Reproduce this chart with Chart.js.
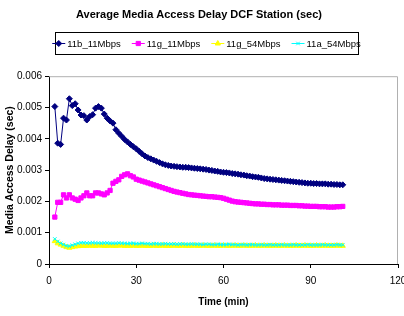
<!DOCTYPE html>
<html>
<head>
<meta charset="utf-8">
<script src="https://cdn.jsdelivr.net/npm/chart.js@4.4.0/dist/chart.umd.min.js"></script>
<style>
  html, body { margin: 0; padding: 0; background: #fff; }
  #wrap { position: relative; width: 404px; height: 316px; }
</style>
</head>
<body>
<div id="wrap"><canvas id="delayChart" width="404" height="316"></canvas></div>
<script>
// ===== Chart data =====
const seriesNames = ['11b_11Mbps', '11g_11Mbps', '11g_54Mbps', '11a_54Mbps'];
const xTicks = [0, 30, 60, 90, 120];
const yTicks = [0, 0.001, 0.002, 0.003, 0.004, 0.005, 0.006];

const timeMin = [
  2, 3, 4, 5, 6, 7, 8, 9, 10, 11, 12, 13, 14, 15, 16, 17, 18, 19, 20, 21,
  22, 23, 24, 25, 26, 27, 28, 29, 30, 31, 32, 33, 34, 35, 36, 37, 38, 39, 40, 41,
  42, 43, 44, 45, 46, 47, 48, 49, 50, 51, 52, 53, 54, 55, 56, 57, 58, 59, 60, 61,
  62, 63, 64, 65, 66, 67, 68, 69, 70, 71, 72, 73, 74, 75, 76, 77, 78, 79, 80, 81,
  82, 83, 84, 85, 86, 87, 88, 89, 90, 91, 92, 93, 94, 95, 96, 97, 98, 99, 100, 101
];

const b11Delay = [
  0.00503, 0.00386, 0.00382, 0.00466, 0.00460, 0.00528, 0.00506, 0.00512, 0.00492, 0.00476,
  0.00474, 0.00460, 0.00471, 0.00477, 0.00498, 0.00503, 0.00498, 0.00479, 0.00466, 0.00457,
  0.00450, 0.00429, 0.00418, 0.00408, 0.00398, 0.00390, 0.00382, 0.00375, 0.00368, 0.00360,
  0.00352, 0.00345, 0.00340, 0.00336, 0.00332, 0.00328, 0.00324, 0.00320, 0.00317, 0.00315,
  0.00313, 0.00312, 0.00311, 0.00310, 0.00309, 0.00309, 0.00308, 0.00307, 0.00306, 0.00305,
  0.00304, 0.00303, 0.00302, 0.00300, 0.00299, 0.00297, 0.00296, 0.00294, 0.00293, 0.00292,
  0.00291, 0.00289, 0.00288, 0.00287, 0.00285, 0.00284, 0.00282, 0.00281, 0.00279, 0.00278,
  0.00277, 0.00275, 0.00273, 0.00272, 0.00271, 0.00270, 0.00269, 0.00268, 0.00267, 0.00266,
  0.00265, 0.00264, 0.00263, 0.00262, 0.00261, 0.00260, 0.00259, 0.00258, 0.00258, 0.00257,
  0.00257, 0.00256, 0.00256, 0.00256, 0.00255, 0.00255, 0.00254, 0.00254, 0.00253, 0.00253
];

const g11Delay = [
  0.00150, 0.00197, 0.00197, 0.00221, 0.00211, 0.00221, 0.00211, 0.00207, 0.00203, 0.00211,
  0.00218, 0.00227, 0.00218, 0.00218, 0.00227, 0.00227, 0.00224, 0.00221, 0.00227, 0.00235,
  0.00258, 0.00264, 0.00269, 0.00280, 0.00285, 0.00288, 0.00282, 0.00278, 0.00271, 0.00268,
  0.00265, 0.00262, 0.00259, 0.00256, 0.00253, 0.00250, 0.00247, 0.00244, 0.00241, 0.00238,
  0.00235, 0.00232, 0.00230, 0.00228, 0.00226, 0.00224, 0.00222, 0.00221, 0.00220, 0.00219,
  0.00218, 0.00217, 0.00216, 0.00215, 0.00215, 0.00214, 0.00213, 0.00212, 0.00210, 0.00207,
  0.00204, 0.00201, 0.00199, 0.00198, 0.00197, 0.00196, 0.00195, 0.00194, 0.00193, 0.00192,
  0.00192, 0.00191, 0.00191, 0.00190, 0.00190, 0.00189, 0.00189, 0.00189, 0.00188, 0.00188,
  0.00188, 0.00187, 0.00187, 0.00187, 0.00186, 0.00186, 0.00185, 0.00185, 0.00184, 0.00184,
  0.00184, 0.00183, 0.00183, 0.00183, 0.00182, 0.00182, 0.00182, 0.00183, 0.00183, 0.00184
];

const g54Delay = [
  0.00073, 0.00066, 0.00062, 0.00058, 0.00054, 0.00052, 0.00054, 0.00056, 0.00057, 0.00058,
  0.00058, 0.00058, 0.00059, 0.00058, 0.00058, 0.00059, 0.00059, 0.00058, 0.00058, 0.00059,
  0.00058, 0.00058, 0.00059, 0.00059, 0.00058, 0.00058, 0.00058, 0.00059, 0.00058, 0.00058,
  0.00059, 0.00058, 0.00058, 0.00058, 0.00059, 0.00058, 0.00058, 0.00059, 0.00058, 0.00058,
  0.00058, 0.00059, 0.00058, 0.00058, 0.00059, 0.00058, 0.00058, 0.00058, 0.00059, 0.00058,
  0.00058, 0.00059, 0.00058, 0.00058, 0.00058, 0.00059, 0.00058, 0.00058, 0.00059, 0.00058,
  0.00058, 0.00058, 0.00059, 0.00058, 0.00058, 0.00059, 0.00058, 0.00058, 0.00058, 0.00059,
  0.00058, 0.00058, 0.00059, 0.00058, 0.00058, 0.00058, 0.00059, 0.00058, 0.00058, 0.00059,
  0.00058, 0.00058, 0.00058, 0.00059, 0.00058, 0.00058, 0.00059, 0.00058, 0.00058, 0.00058,
  0.00059, 0.00058, 0.00058, 0.00059, 0.00058, 0.00058, 0.00058, 0.00059, 0.00058, 0.00058
];

const a54Delay = [
  0.00080, 0.00072, 0.00066, 0.00062, 0.00058, 0.00057, 0.00060, 0.00063, 0.00066, 0.00068,
  0.00068, 0.00067, 0.00067, 0.00068, 0.00067, 0.00067, 0.00066, 0.00067, 0.00067, 0.00066,
  0.00066, 0.00066, 0.00067, 0.00066, 0.00066, 0.00065, 0.00066, 0.00066, 0.00065, 0.00065,
  0.00066, 0.00065, 0.00065, 0.00064, 0.00065, 0.00065, 0.00064, 0.00064, 0.00065, 0.00064,
  0.00064, 0.00064, 0.00063, 0.00064, 0.00064, 0.00063, 0.00063, 0.00064, 0.00063, 0.00063,
  0.00063, 0.00062, 0.00063, 0.00063, 0.00062, 0.00062, 0.00063, 0.00062, 0.00062, 0.00062,
  0.00063, 0.00062, 0.00062, 0.00061, 0.00062, 0.00062, 0.00061, 0.00062, 0.00062, 0.00061,
  0.00061, 0.00062, 0.00061, 0.00061, 0.00062, 0.00061, 0.00061, 0.00061, 0.00062, 0.00061,
  0.00061, 0.00061, 0.00062, 0.00061, 0.00061, 0.00061, 0.00061, 0.00062, 0.00061, 0.00061,
  0.00061, 0.00061, 0.00062, 0.00061, 0.00061, 0.00061, 0.00061, 0.00062, 0.00061, 0.00061
];

// ===== Styles =====
const FONT = "Arial, 'Liberation Sans', sans-serif";
const seriesValues = [b11Delay, g11Delay, g54Delay, a54Delay];
const seriesColors = ['#000080', '#ff00ff', '#ffff00', '#00ffff'];
const seriesMarkers = ['rectRot', 'rect', 'triangle', 'crossRot'];
const seriesRadius = [3, 3, 3, 2.5];

function toPoints(values) {
  return timeMin.map((t, i) => ({ x: t, y: values[i] }));
}

const datasets = seriesNames.map((name, i) => ({
  label: name,
  data: toPoints(seriesValues[i]),
  borderColor: seriesColors[i],
  backgroundColor: seriesColors[i],
  borderWidth: 1,
  pointStyle: seriesMarkers[i],
  pointRadius: seriesRadius[i],
  pointBorderWidth: 1,
  pointBackgroundColor: seriesColors[i],
  pointBorderColor: seriesColors[i],
  tension: 0,
  order: seriesNames.length - i
}));

// Excel style frame: grey top/right edge of the plot area
const plotFrame = {
  id: 'plotFrame',
  beforeDatasetsDraw(chart) {
    const { ctx, chartArea: a } = chart;
    ctx.save();
    ctx.strokeStyle = '#b0b0b0';
    ctx.lineWidth = 1;
    ctx.beginPath();
    ctx.moveTo(a.left, a.top + 0.5);
    ctx.lineTo(a.right - 0.5, a.top + 0.5);
    ctx.lineTo(a.right - 0.5, a.bottom);
    ctx.stroke();
    ctx.restore();
  }
};

// Boxed legend with line + marker samples
const boxLegend = {
  id: 'boxLegend',
  afterDraw(chart) {
    const { ctx } = chart;
    const box = { left: 55, top: 32, width: 303, height: 22 };
    const lineLen = 13, gapText = 2, gapItem = 11;
    ctx.save();
    ctx.font = '9.5px ' + FONT;
    const widths = chart.data.datasets.map(d => ctx.measureText(d.label).width);
    const total = widths.reduce((s, w) => s + w + lineLen + gapText, 0) + gapItem * (widths.length - 1);
    let x = box.left + (box.width - total) / 2;
    const y = box.top + box.height / 2;

    ctx.strokeStyle = '#000';
    ctx.lineWidth = 1;
    ctx.strokeRect(box.left + 0.5, box.top + 0.5, box.width, box.height);

    chart.data.datasets.forEach((d, i) => {
      ctx.strokeStyle = d.borderColor;
      ctx.fillStyle = d.borderColor;
      ctx.beginPath();
      ctx.moveTo(x, y + 0.5);
      ctx.lineTo(x + lineLen, y + 0.5);
      ctx.stroke();
      Chart.helpers.drawPoint(ctx, { pointStyle: d.pointStyle, rotation: 0, radius: d.pointRadius, borderWidth: 1 }, x + lineLen / 2, y + 0.5);
      ctx.fillStyle = '#000';
      ctx.textAlign = 'left';
      ctx.textBaseline = 'middle';
      ctx.fillText(d.label, x + lineLen + gapText, y + 1);
      x += lineLen + gapText + widths[i] + gapItem;
    });
    ctx.restore();
  }
};

// ===== Create chart =====
new Chart(document.getElementById('delayChart'), {
  type: 'line',
  data: { datasets: datasets },
  plugins: [plotFrame, boxLegend],
  options: {
    responsive: false,
    animation: false,
    layout: { padding: { left: 0, right: 6, top: 0, bottom: 0 } },
    plugins: {
      legend: { display: false },
      tooltip: { enabled: false },
      title: {
        display: true,
        text: 'Average Media Access Delay DCF Station (sec)',
        color: '#000',
        font: { family: FONT, size: 11, weight: 'bold' },
        padding: { top: 8, bottom: 55 }
      }
    },
    scales: {
      x: {
        type: 'linear',
        min: xTicks[0],
        max: xTicks[xTicks.length - 1],
        afterBuildTicks: s => { s.ticks = xTicks.map(v => ({ value: v })); },
        afterFit: s => { s.height = 52; s.paddingLeft = 0; s.paddingRight = 0; },
        border: { color: '#000', width: 1 },
        grid: { drawOnChartArea: false, drawTicks: true, tickLength: 4, color: '#000' },
        ticks: { color: '#000', font: { family: FONT, size: 10 }, padding: 7, maxRotation: 0, autoSkip: false },
        title: {
          display: true,
          text: 'Time (min)',
          color: '#000',
          font: { family: FONT, size: 10, weight: 'bold' },
          padding: { top: 0, bottom: 8 }
        }
      },
      y: {
        min: yTicks[0],
        max: yTicks[yTicks.length - 1],
        afterBuildTicks: s => { s.ticks = yTicks.map(v => ({ value: v })); },
        afterFit: s => { s.width = 49; s.paddingTop = 0; s.paddingBottom = 0; },
        border: { color: '#000', width: 1 },
        grid: { drawOnChartArea: false, drawTicks: true, tickLength: 4, color: '#000' },
        ticks: {
          color: '#000',
          font: { family: FONT, size: 10 },
          padding: 3,
          callback: v => (v === 0 ? '0' : v.toFixed(3))
        },
        title: {
          display: true,
          text: 'Media Access Delay (sec)',
          color: '#000',
          font: { family: FONT, size: 10.5, weight: 'bold' },
          padding: { top: 4, bottom: 0 }
        }
      }
    }
  }
});
</script>
</body>
</html>
